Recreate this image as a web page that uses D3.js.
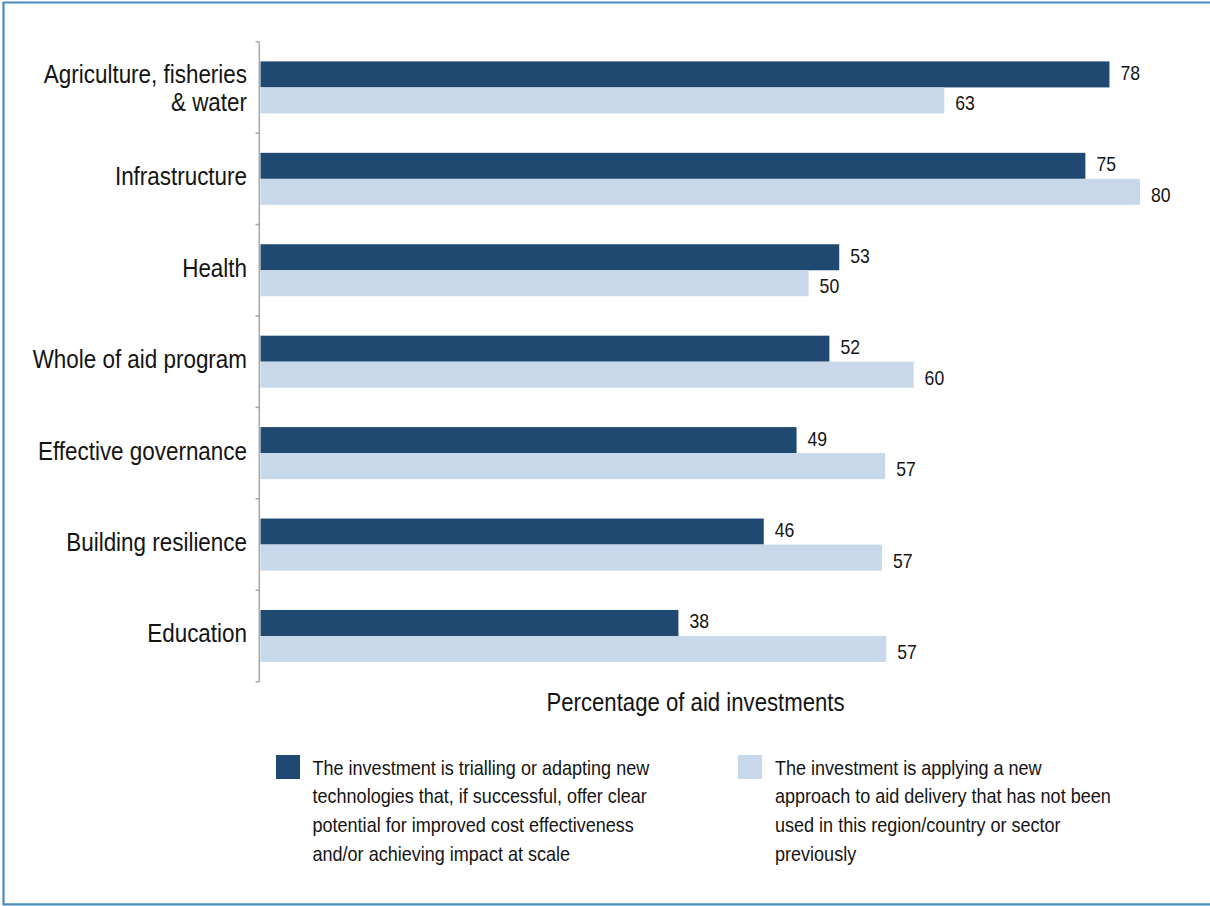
<!DOCTYPE html>
<html>
<head>
<meta charset="utf-8">
<script src="https://cdn.jsdelivr.net/npm/d3@7/dist/d3.min.js"></script>
<style>
  html, body { margin: 0; padding: 0; background: #fff; }
  svg { display: block; }
  text { font-family: "Liberation Sans", Arial, Helvetica, sans-serif; fill: #141414; }
</style>
</head>
<body>
<svg id="chart" width="1210" height="906"></svg>
<script>
// ---- data ----
const categories = [
  "Agriculture, fisheries\n& water",
  "Infrastructure",
  "Health",
  "Whole of aid program",
  "Effective governance",
  "Building resilience",
  "Education"
];
const seriesNames = ["newTech", "newApproach"];
const newTechValues = [77.6, 75.4, 52.9, 52.0, 49.0, 46.0, 38.2];
const newApproachValues = [62.5, 80.4, 50.1, 59.7, 57.1, 56.8, 57.2];
const newTechLabels = ["78", "75", "53", "52", "49", "46", "38"];
const newApproachLabels = ["63", "80", "50", "60", "57", "57", "57"];
const legendTexts = [
  ["The investment is trialling or adapting new",
   "technologies that, if successful, offer clear",
   "potential for improved cost effectiveness",
   "and/or achieving impact at scale"],
  ["The investment is applying a new",
   "approach to aid delivery that has not been",
   "used in this region/country or sector",
   "previously"]
];
const axisTitle = "Percentage of aid investments";

// ---- styles ----
const colors = { newTech: "#1f4970", newApproach: "#c7d8ea" };
const W = 1210, H = 906;
const SX = 0.88; // condensed look
const svg = d3.select("#chart");

function addText(sel, x, y, size, anchor, str) {
  return sel.append("text")
    .attr("transform", `translate(${x},${y}) scale(${SX},1)`)
    .attr("font-size", size)
    .attr("text-anchor", anchor)
    .text(str);
}

// border (top, left, bottom)
svg.append("path")
  .attr("d", `M${W},2.5 H3.5 V904.3 H${W}`)
  .attr("fill", "none").attr("stroke", "#4b8cbf").attr("stroke-width", 2.2);

const plotTop = 41.7, plotBottom = 681.7, x0 = 260.5;
const x = d3.scaleLinear().domain([0, 100]).range([x0, x0 + 1094]);
const y = d3.scaleBand().domain(categories).range([plotTop, plotBottom]);
const ySub = d3.scaleBand().domain(seriesNames).range([0, y.bandwidth()])
  .paddingInner(0).paddingOuter(0.757);

const rows = categories.map((c, i) => ({
  cat: c,
  vals: [
    { s: "newTech", v: newTechValues[i], label: newTechLabels[i] },
    { s: "newApproach", v: newApproachValues[i], label: newApproachLabels[i] }
  ]
}));

const g = svg.append("g");
const groups = g.selectAll("g.cat").data(rows).join("g")
  .attr("class", "cat")
  .attr("transform", d => `translate(0,${y(d.cat)})`);

groups.selectAll("rect").data(d => d.vals).join("rect")
  .attr("x", x(0))
  .attr("y", d => ySub(d.s))
  .attr("width", d => x(d.v) - x(0))
  .attr("height", ySub.bandwidth())
  .attr("fill", d => colors[d.s]);

const labelShift = { newTech: 5.5, newApproach: 10 };
groups.each(function(d) {
  const grp = d3.select(this);
  d.vals.forEach(v => {
    addText(grp, x(v.v) + 11, ySub(v.s) + ySub.bandwidth() / 2 + labelShift[v.s], 20, "start", v.label);
  });
});

// y axis
const yAxisG = svg.append("g");
yAxisG.append("line")
  .attr("x1", 259.3).attr("x2", 259.3)
  .attr("y1", plotTop).attr("y2", plotBottom)
  .attr("stroke", "#a6a6a6").attr("stroke-width", 1.5);
const boundaries = categories.map(c => y(c)).concat([y(categories[categories.length - 1]) + y.bandwidth()]);
yAxisG.selectAll("line.tick").data(boundaries).join("line")
  .attr("class", "tick")
  .attr("x1", 255.5).attr("x2", 259.3)
  .attr("y1", d => d).attr("y2", d => d)
  .attr("stroke", "#a6a6a6").attr("stroke-width", 1.5);

// category labels
categories.forEach(c => {
  const lines = c.split("\n");
  const n = lines.length;
  const lh = 27.7;
  const cy = y(c) + y.bandwidth() / 2;
  const start = -((n - 1) * lh) / 2 + 6.5 + (n - 1) * 3;
  lines.forEach((ln, i) => {
    addText(yAxisG, 247, cy + start + i * lh, 25.5, "end", ln);
  });
});

// axis title
addText(svg, 695.5, 710.5, 25.2, "middle", axisTitle);

// legend
const legendPos = [{ sx: 276, tx: 312.5, s: "newTech" }, { sx: 738, tx: 775, s: "newApproach" }];
legendPos.forEach((p, i) => {
  svg.append("rect").attr("x", p.sx).attr("y", 755).attr("width", 24).attr("height", 24)
    .attr("fill", colors[p.s]);
  legendTexts[i].forEach((ln, j) => {
    addText(svg, p.tx, 774.5 + j * 28.7, 20.5, "start", ln);
  });
});
</script>
</body>
</html>
